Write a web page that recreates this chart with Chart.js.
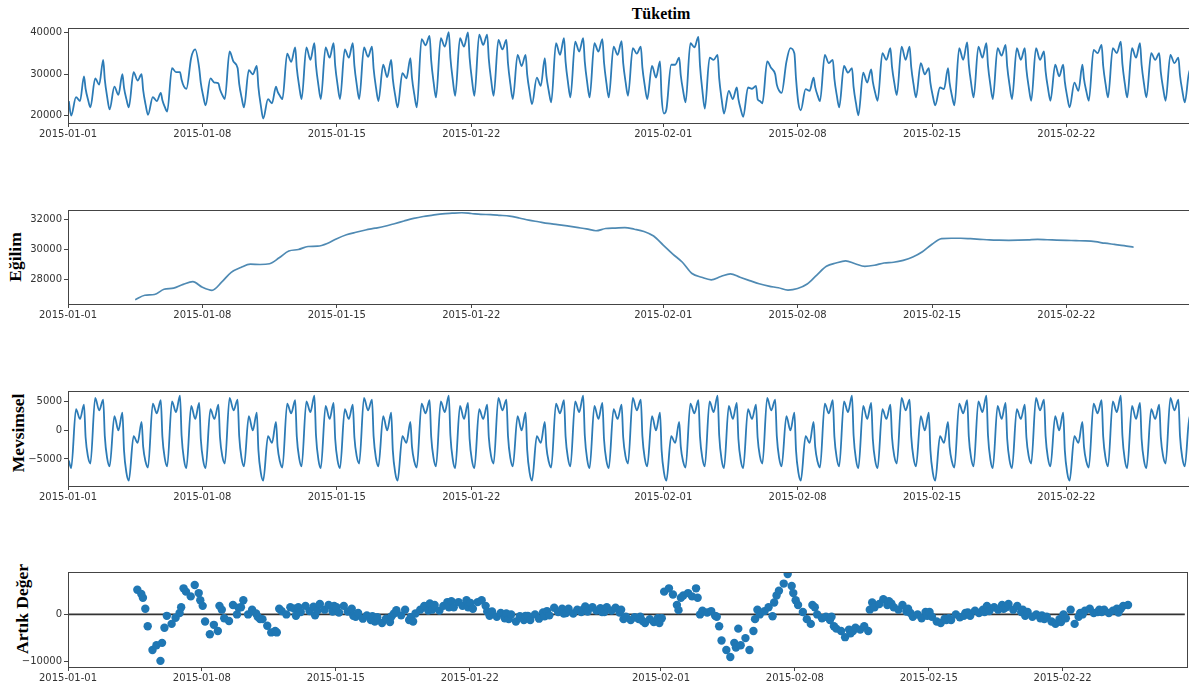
<!DOCTYPE html>
<html>
<head>
<meta charset="utf-8">
<script src="https://cdn.jsdelivr.net/npm/chart.js@4.4.1/dist/chart.umd.min.js"></script>
<style>
body { margin: 0; background: #fff; width: 1189px; height: 689px; overflow: hidden; position: relative; }
.pan { position: absolute; left: 0; }
.ttl { position: absolute; font-family: "Liberation Serif"; font-weight: bold; color: #000; white-space: nowrap; }
.yl { position: absolute; font-family: "Liberation Serif"; font-weight: bold; font-size: 17.5px; color: #000;
      transform: translate(-50%, -50%) rotate(-90deg); white-space: nowrap; }
</style>
</head>
<body>
<div class="ttl" style="left:661px; top:14px; font-size:16px; transform:translate(-50%,-50%);">Tüketim</div>
<div class="yl" style="left:15px; top:257px;">Eğilim</div>
<div class="yl" style="left:18px; top:433px;">Mevsimsel</div>
<div class="yl" style="left:22px; top:609px;">Artık Değer</div>

<canvas class="pan" id="c1" width="1189" height="129" style="top:20px"></canvas>
<canvas class="pan" id="c2" width="1189" height="128" style="top:202px"></canvas>
<canvas class="pan" id="c3" width="1189" height="129" style="top:383px"></canvas>
<canvas class="pan" id="c4" width="1189" height="129" style="top:564px"></canvas>

<script>
// sample hours inside each day (hours after midnight)
const HOURS = [1, 4, 10, 15, 20, 22];

const XTICK_DAYS = [0, 7, 14, 21, 31, 38, 45, 52];
const XTICK_LABELS = ['2015-01-01', '2015-01-08', '2015-01-15', '2015-01-22',
                      '2015-02-01', '2015-02-08', '2015-02-15', '2015-02-22'];

// Tüketim, one row per day starting 2015-01-01
const TUKETIM = [
    23500, 20000, 24500, 23500, 29500, 26500,
    23900, 22000, 29000, 27500, 33500, 28700,
    24500, 21500, 27000, 25000, 30000, 26800,
    24000, 22000, 30500, 28500, 30000, 26100,
    22650, 20200, 24500, 23500, 25500, 23700,
    22100, 21000, 31500, 30500, 30500, 28700,
    27000, 26500, 34000, 36000, 31500, 27900,
    24750, 22500, 29000, 28000, 27800, 26300,
    24950, 24000, 35500, 33000, 31500, 27700,
    24400, 22000, 31000, 30000, 32000, 26900,
    22500, 19300, 24000, 23000, 27000, 25800,
    24750, 24000, 35000, 33000, 36500, 31500,
    27100, 24000, 36500, 33500, 37500, 32100,
    27400, 24000, 36500, 34000, 37500, 32100,
    27400, 24000, 36000, 34000, 37500, 32100,
    27400, 24000, 36500, 34200, 36700, 31400,
    26800, 23500, 32300, 29300, 33500, 28900,
    24900, 22000, 30300, 29000, 33900, 29100,
    25000, 22000, 38500, 37000, 39300, 33300,
    28100, 24400, 38700, 36700, 40200, 34000,
    28650, 24800, 38700, 36700, 40100, 34000,
    28600, 24800, 39600, 37100, 39600, 33700,
    28500, 24800, 38300, 36000, 38300, 32600,
    27600, 24000, 34700, 32000, 34700, 29900,
    25800, 22800, 29200, 27200, 33900, 29600,
    25900, 23200, 37500, 34700, 38700, 33000,
    28000, 24400, 37900, 35500, 38700, 33000,
    28000, 24400, 37500, 35500, 38500, 32900,
    27900, 24400, 36700, 34700, 38000, 32700,
    28100, 24800, 36300, 35000, 36700, 31600,
    27200, 24000, 32000, 29200, 33100, 24500,
    20500, 21500, 32300, 32300, 34000, 29700,
    25900, 23200, 37500, 36500, 39000, 32100,
    26000, 21700, 34000, 33500, 34700, 29000,
    24050, 20500, 26000, 24000, 26800, 24000,
    21500, 19700, 26800, 26500, 27200, 24000,
    23500, 23000, 33100, 31500, 30000, 27500,
    26000, 25500, 33000, 36300, 35000, 29000,
    23000, 21300, 26400, 26000, 29200, 26900,
    24900, 23500, 34700, 32700, 33500, 28900,
    24900, 22000, 32000, 30400, 31500, 26900,
    22950, 20100, 30400, 28000, 31200, 28200,
    25500, 23600, 35100, 33500, 36300, 31800,
    27800, 25000, 36700, 33500, 36700, 31800,
    27500, 24400, 32700, 30000, 31500, 27900,
    24750, 22500, 26800, 26400, 31500, 27900,
    24750, 22500, 36300, 33500, 37700, 32400,
    27700, 24400, 36700, 34000, 37500, 32100,
    27400, 24000, 36300, 34500, 37100, 31900,
    27300, 24000, 36300, 33500, 36300, 31200,
    26800, 23600, 36300, 33500, 35500, 30700,
    26600, 23600, 32300, 29500, 32300, 28200,
    24600, 22000, 28000, 26000, 32300, 28800,
    25800, 23600, 35900, 35100, 37100, 32000,
    27600, 24400, 36300, 35100, 37900, 32500,
    27800, 24400, 36300, 34000, 37500, 32300,
    27700, 24400, 35100, 33500, 35100, 30500,
    26500, 23600, 34700, 32700, 34000, 29700,
    25900, 23200, 31000, 29000
];

// Eğilim, every 12 hours from day 3.5
const EGILIM_START = 3.5;
const EGILIM = [
    26650, 26950, 27000, 27350, 27430, 27680, 27860, 27480, 27280, 27820,
    28480, 28800, 29020, 29000, 29050, 29450, 29900, 30000, 30200, 30220,
    30400, 30720, 30980, 31150, 31300, 31420, 31550, 31720, 31900, 32070,
    32200, 32290, 32380, 32420, 32450, 32400, 32340, 32330, 32280, 32220,
    32100, 31960, 31850, 31740, 31660, 31570, 31470, 31380, 31250, 31400,
    31430, 31460, 31350, 31200, 30900, 30300, 29700, 29150, 28400, 28150,
    27980, 28200, 28380, 28150, 27930, 27720, 27560, 27450, 27300, 27400,
    27700, 28300, 28880, 29100, 29240, 29050, 28880, 28950, 29100, 29150,
    29280, 29500, 29850, 30350, 30720, 30750, 30750, 30720, 30680, 30640,
    30620, 30610, 30620, 30640, 30670, 30650, 30630, 30610, 30590, 30570,
    30520, 30420, 30340, 30260, 30150
];

// Mevsimsel, one row per day starting 2015-01-01 (Thursday)
const MEVSIMSEL = [
    -5300, -6600, 3700, 2000, 4500, -1200,
    -4600, -5800, 5700, 3500, 5400, -1000,
    -4900, -6300, 2500, 0, 3100, -3450,
    -7400, -8800, -1000, -2200, 1500, -2900,
    -5500, -6500, 4700, 3000, 5300, -1100,
    -4900, -6300, 5100, 3200, 6100, -900,
    -5100, -6600, 4300, 2000, 4800, -1500,
    -5300, -6600, 3700, 2000, 4500, -1200,
    -4600, -5800, 5700, 3500, 5400, -1000,
    -4900, -6300, 2500, 0, 3100, -3450,
    -7400, -8800, -1000, -2200, 1500, -2900,
    -5500, -6500, 4700, 3000, 5300, -1100,
    -4900, -6300, 5100, 3200, 6100, -900,
    -5100, -6600, 4300, 2000, 4800, -1500,
    -5300, -6600, 3700, 2000, 4500, -1200,
    -4600, -5800, 5700, 3500, 5400, -1000,
    -4900, -6300, 2500, 0, 3100, -3450,
    -7400, -8800, -1000, -2200, 1500, -2900,
    -5500, -6500, 4700, 3000, 5300, -1100,
    -4900, -6300, 5100, 3200, 6100, -900,
    -5100, -6600, 4300, 2000, 4800, -1500,
    -5300, -6600, 3700, 2000, 4500, -1200,
    -4600, -5800, 5700, 3500, 5400, -1000,
    -4900, -6300, 2500, 0, 3100, -3450,
    -7400, -8800, -1000, -2200, 1500, -2900,
    -5500, -6500, 4700, 3000, 5300, -1100,
    -4900, -6300, 5100, 3200, 6100, -900,
    -5100, -6600, 4300, 2000, 4800, -1500,
    -5300, -6600, 3700, 2000, 4500, -1200,
    -4600, -5800, 5700, 3500, 5400, -1000,
    -4900, -6300, 2500, 0, 3100, -3450,
    -7400, -8800, -1000, -2200, 1500, -2900,
    -5500, -6500, 4700, 3000, 5300, -1100,
    -4900, -6300, 5100, 3200, 6100, -900,
    -5100, -6600, 4300, 2000, 4800, -1500,
    -5300, -6600, 3700, 2000, 4500, -1200,
    -4600, -5800, 5700, 3500, 5400, -1000,
    -4900, -6300, 2500, 0, 3100, -3450,
    -7400, -8800, -1000, -2200, 1500, -2900,
    -5500, -6500, 4700, 3000, 5300, -1100,
    -4900, -6300, 5100, 3200, 6100, -900,
    -5100, -6600, 4300, 2000, 4800, -1500,
    -5300, -6600, 3700, 2000, 4500, -1200,
    -4600, -5800, 5700, 3500, 5400, -1000,
    -4900, -6300, 2500, 0, 3100, -3450,
    -7400, -8800, -1000, -2200, 1500, -2900,
    -5500, -6500, 4700, 3000, 5300, -1100,
    -4900, -6300, 5100, 3200, 6100, -900,
    -5100, -6600, 4300, 2000, 4800, -1500,
    -5300, -6600, 3700, 2000, 4500, -1200,
    -4600, -5800, 5700, 3500, 5400, -1000,
    -4900, -6300, 2500, 0, 3100, -3450,
    -7400, -8800, -1000, -2200, 1500, -2900,
    -5500, -6500, 4700, 3000, 5300, -1100,
    -4900, -6300, 5100, 3200, 6100, -900,
    -5100, -6600, 4300, 2000, 4800, -1500,
    -5300, -6600, 3700, 2000, 4500, -1200,
    -4600, -5800, 5700, 3500, 5400, -1000,
    -4900, -6300, 2500, 0
];

// Artık Değer, starts at day 3, 15:00 (grid index 21)
const ARTIK_START = 21;
const ARTIK = [
                         5200, 4300, 3500,
    1200, -2500, -7500, -6500, -9800, -6000,
    -2800, -300, -2000, -700, 300, 1500,
    5500, 4800, 3800, 6200, 4500, 3000,
    1800, -1500, -4200, -2200, -3500, 1800,
    1000, -800, -1400, 2000, 0, 1400,
    1500, 3000, 0, 1000, 200, -500,
    -1000, -1000, -2400, -3800, -3500, -3800,
    1200, 700, 0, 1500, 1200, -300,
    1500, 500, 1800, 700, 1600, -200,
    800, 2200, 1000, 2000, 600, 1800,
    1500, 400, 1800, 600, 1200, -300,
    -500, 300, -900, -200, -1200, -400,
    -1500, -600, -1800, -900, -1600, -400,
    200, 900, -200, 1000, -1200, -600,
    -1500, 200, 1000, 1800, 800, 2300,
    1000, 2000, 800, 1800, 2600, 1500,
    2800, 1500, 2600, 1800, 3000, 1500,
    2400, 1200, 2600, 3000, 1800, 600,
    -300, 600, -500, 300, -800, 200,
    -1000, 0, -1500, -400, -1200, -300,
    -300, -1200, 0, -900, 400, -400,
    700, -200, 1400, 500, 1200, 200,
    300, 1200, 200, 1000, 500, 1000,
    1700, 600, 1500, 800, 1300, 500,
    500, 1500, 800, 1400, 400, 1000,
    -1000, -500, -1200, -600, -1000, -500,
    -1400, -1800, -1000, -1600, -800, -1800,
    -800, 4800, 5500, 4200, 2000, 900,
    3500, 4000, 4500, 3800, 5500, 3500,
    0, 800, 400, 700, -300, -500,
    -2500, -5500, -7500, -9000, -6000, -7000,
    -3000, -6500, -5000, -7500, -3500, -1000,
    1000, 0, 700, 1500, -400, 2500,
    4000, 5000, 6500, 8500, 6000, 4500,
    3000, 2000, 500, -1000, -2000, 2000,
    1500, 0, -800, -500, -1200, -500,
    -2500, -3000, -3500, -4800, -3200, -4000,
    -3500, -2800, -3200, -2500, -3500, 1000,
    2500, 1500, 2200, 3200, 2000, 2800,
    2300, 1500, 1000, 2000, 600, 1200,
    300, -500, 0, -800, 500, -300,
    500, -500, -1500, -1800, -900, -1200,
    -800, -1200, 0, -600, -300, 300,
    400, -300, 800, 300, 1000, 500,
    1800, 700, 1500, 1000, 2000, 1200,
    1500, 2200, 1000, 1800, 500, 1000,
    -300, 500, -500, 0, -800, -200,
    -1000, -500, -1500, -2000, -1000, -1600,
    0, -800, 1000, -2000, -500, 300,
    0, 800, 1200, 300, 500, 1000,
    500, 1000, 300, 800, 1200, 400,
    1200, 1800, 2000
];

const X_MAX = 58.385 * 24;
const LINE_COLOR = '#2c7bb6';
const AXIS_COLOR = '#444';
const TICK_FONT = { family: 'DejaVu Sans', size: 10 };

function gridPoints(values, start) {
    return values.map(function(v, i) {
        const j = start + i;
        const day = Math.floor(j / HOURS.length);
        return { x: day * 24 + HOURS[j % HOURS.length], y: v };
    });
}

function fmt(v) {
    return v < 0 ? '\u2212' + Math.abs(v) : String(v);
}

const framePlugin = {
    id: 'frame',
    afterDraw: function(chart) {
        const a = chart.chartArea;
        const c = chart.ctx;
        c.save();
        c.strokeStyle = AXIS_COLOR;
        c.lineWidth = 1;
        c.strokeRect(Math.round(a.left) + 0.5, Math.round(a.top) + 0.5,
                     Math.round(a.right - a.left) + 2, Math.round(a.bottom - a.top));
        c.restore();
    }
};

const zeroPlugin = {
    id: 'zero',
    beforeDatasetsDraw: function(chart) {
        const a = chart.chartArea;
        const y = chart.scales.y.getPixelForValue(0);
        const c = chart.ctx;
        c.save();
        c.strokeStyle = '#333';
        c.lineWidth = 1.8;
        c.beginPath();
        c.moveTo(a.left, y);
        c.lineTo(a.right, y);
        c.stroke();
        c.restore();
    }
};

function makePanel(id, datasets, yMin, yMax, yTicks, extra) {
    const plugins = [framePlugin];
    if (extra) plugins.push(extra);
    return new Chart(document.getElementById(id), {
        type: 'line',
        data: { datasets: datasets },
        options: {
            responsive: false,
            animation: false,
            devicePixelRatio: 1,
            layout: { padding: { top: 6, left: 0, right: 0, bottom: 0 } },
            plugins: { legend: { display: false }, tooltip: { enabled: false } },
            scales: {
                x: {
                    type: 'linear',
                    min: 0,
                    max: X_MAX,
                    afterBuildTicks: function(axis) {
                        axis.ticks = XTICK_DAYS.map(function(d) { return { value: d * 24 }; });
                    },
                    afterFit: function(axis) { axis.height = 26; },
                    grid: { drawOnChartArea: false, drawTicks: true, tickLength: 4, color: AXIS_COLOR },
                    border: { display: true, color: AXIS_COLOR },
                    ticks: {
                        autoSkip: false,
                        maxRotation: 0,
                        padding: 1,
                        color: '#333',
                        font: TICK_FONT,
                        callback: function(value, index) { return XTICK_LABELS[index]; }
                    }
                },
                y: {
                    min: yMin,
                    max: yMax,
                    afterBuildTicks: function(axis) {
                        axis.ticks = yTicks.map(function(v) { return { value: v }; });
                    },
                    afterFit: function(axis) { axis.width = 68; },
                    grid: { drawOnChartArea: false, drawTicks: true, tickLength: 4, color: AXIS_COLOR },
                    border: { display: true, color: AXIS_COLOR },
                    ticks: {
                        padding: 2,
                        color: '#333',
                        font: TICK_FONT,
                        callback: function(value) { return fmt(value); }
                    }
                }
            }
        },
        plugins: plugins
    });
}

function lineSet(points, width) {
    return {
        data: points,
        borderColor: LINE_COLOR,
        borderWidth: width,
        pointRadius: 0,
        cubicInterpolationMode: 'monotone',
        fill: false
    };
}

makePanel('c1', [lineSet(gridPoints(TUKETIM, 0), 1.8)],
    18225, 41180, [20000, 30000, 40000]);

const trendPoints = EGILIM.map(function(v, i) {
    return { x: (EGILIM_START + i * 0.5) * 24, y: v };
});
const trendSet = lineSet(trendPoints, 1.7);
trendSet.borderColor = '#4f8ab3';
makePanel('c2', [trendSet], 26369, 32633, [28000, 30000, 32000]);

makePanel('c3', [lineSet(gridPoints(MEVSIMSEL, 0), 1.8)],
    -9740, 6900, [-5000, 0, 5000]);

makePanel('c4', [{
    data: gridPoints(ARTIK, ARTIK_START),
    showLine: false,
    pointRadius: 4.2,
    pointBorderWidth: 0,
    pointBackgroundColor: '#1f77b4',
    pointBorderColor: '#1f77b4'
}], -11095, 8946, [-10000, 0], zeroPlugin);
</script>
</body>
</html>
